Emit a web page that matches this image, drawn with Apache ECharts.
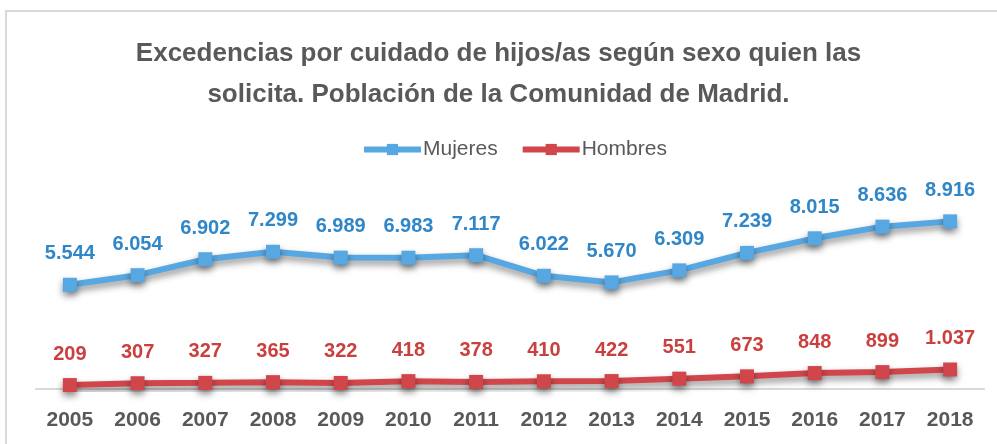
<!DOCTYPE html>
<html>
<head>
<meta charset="utf-8">
<script src="https://cdn.jsdelivr.net/npm/echarts@6/dist/echarts.min.js"></script>
<style>
  html, body { margin: 0; padding: 0; background: #fff; }
  #chart { width: 997px; height: 444px; }
</style>
</head>
<body>
<div id="chart"></div>
<script>
// años y valores
var years = ['2005', '2006', '2007', '2008', '2009', '2010', '2011', '2012', '2013', '2014', '2015', '2016', '2017', '2018'];
var mujeres = [5544, 6054, 6902, 7299, 6989, 6983, 7117, 6022, 5670, 6309, 7239, 8015, 8636, 8916];
var hombres = [209, 307, 327, 365, 322, 418, 378, 410, 422, 551, 673, 848, 899, 1037];

var font = '"Liberation Sans Narrow", "Arial Narrow", "Liberation Sans", sans-serif';

// formato con punto de miles
function miles(v) {
  return String(v).replace(/\B(?=(\d{3})+(?!\d))/g, '.');
}

function serie(name, data, lineColor, labelColor) {
  return {
    name: name,
    type: 'line',
    data: data,
    symbol: 'rect',
    symbolSize: 14,
    showAllSymbol: true,
    lineStyle: {
      width: 6,
      color: lineColor,
      shadowColor: 'rgba(0,0,0,0.45)',
      shadowBlur: 7,
      shadowOffsetY: 4
    },
    itemStyle: {
      color: lineColor,
      shadowColor: 'rgba(0,0,0,0.45)',
      shadowBlur: 7,
      shadowOffsetY: 4
    },
    label: {
      show: true,
      position: 'top',
      distance: 14,
      color: labelColor,
      fontFamily: font,
      fontWeight: 'bold',
      fontSize: 20,
      formatter: function (p) { return miles(p.value); }
    }
  };
}

var chart = echarts.init(document.getElementById('chart'));
chart.setOption({
  animation: false,
  textStyle: { fontFamily: font },
  graphic: [{
    type: 'rect',
    shape: { x: 6, y: 11, width: 1000, height: 450 },
    style: { fill: 'none', stroke: '#d9d9d9', lineWidth: 2 },
    silent: true,
    z: -1
  }],
  title: {
    text: 'Excedencias por cuidado de hijos/as según sexo quien las\nsolicita. Población de la Comunidad de Madrid.',
    left: 'center',
    top: 28,
    textStyle: {
      fontFamily: font,
      fontWeight: 'bold',
      fontSize: 26,
      lineHeight: 41,
      color: '#595959'
    }
  },
  legend: {
    top: 134,
    left: 356,
    itemWidth: 57,
    itemHeight: 14,
    itemGap: 22,
    lineStyle: { width: 6 },
    textStyle: { fontFamily: font, fontSize: 21, color: '#595959', padding: [0, 0, 0, -3] },
    data: ['Mujeres', 'Hombres']
  },
  grid: { left: 36, right: 13, top: 201, bottom: 55 },
  xAxis: {
    type: 'category',
    data: years,
    boundaryGap: true,
    axisLine: { lineStyle: { color: '#d9d9d9', width: 2 } },
    axisTick: { show: false },
    axisLabel: {
      margin: 21,
      color: '#595959',
      fontFamily: font,
      fontWeight: 'bold',
      fontSize: 21
    }
  },
  yAxis: {
    type: 'value',
    min: 0,
    max: 10000,
    show: false,
    splitLine: { show: false }
  },
  series: [
    serie('Mujeres', mujeres, '#57a7e2', '#2f86c8'),
    serie('Hombres', hombres, '#d0464a', '#c9403f')
  ]
});
</script>
</body>
</html>
